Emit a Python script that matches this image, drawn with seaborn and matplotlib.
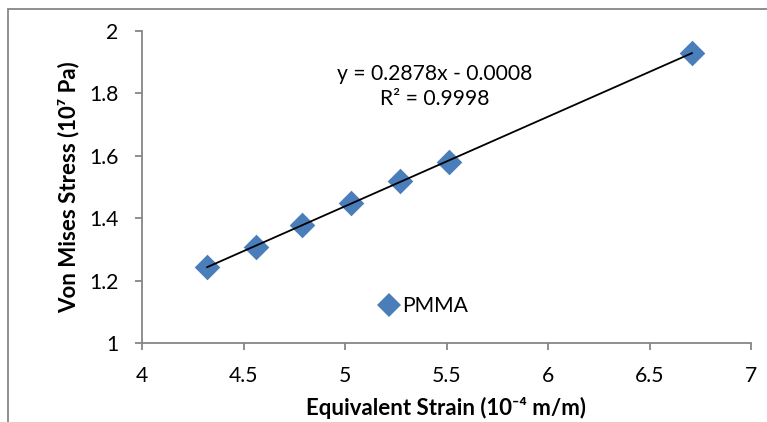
import matplotlib
matplotlib.use("Agg")
import matplotlib.pyplot as plt
import matplotlib.patches as mpatches
from matplotlib.lines import Line2D
import seaborn as sns
import numpy as np

# Data
strain = [4.32, 4.56, 4.79, 5.03, 5.27, 5.51, 6.71]
stress = [1.243, 1.309, 1.379, 1.450, 1.519, 1.579, 1.930]
series_label = "PMMA"
x_ticks = [4, 4.5, 5, 5.5, 6, 6.5, 7]
x_ticklabels = ["4", "4.5", "5", "5.5", "6", "6.5", "7"]
y_ticks = [1, 1.2, 1.4, 1.6, 1.8, 2]
y_ticklabels = ["1", "1.2", "1.4", "1.6", "1.8", "2"]
eq_text = "y = 0.2878x - 0.0008\nR\u00b2 = 0.9998"

sns.set_theme(style="white")
plt.rcParams['font.family'] = ['Lato', 'DejaVu Sans']
plt.rcParams['text.color'] = 'black'
plt.rcParams['axes.labelcolor'] = 'black'
plt.rcParams['xtick.labelcolor'] = 'black'
plt.rcParams['ytick.labelcolor'] = 'black'

W, H = 767, 422
fig = plt.figure(figsize=(W / 100, H / 100), dpi=100)
ax = fig.add_axes([142 / W, 1 - 343 / H, (751 - 142) / W, (343 - 31) / H])

blue = "#4A7EBB"
grey = "#868686"
fs = 15.2
fs_title = 16

sns.regplot(x=strain, y=stress, ax=ax, ci=None, marker="D",
            scatter_kws=dict(s=170, color=blue, linewidths=0, alpha=1),
            line_kws=dict(color="black", lw=1.3))

ax.set_xlim(4, 7)
ax.set_ylim(1, 2)
ax.set_xticks(x_ticks)
ax.set_xticklabels(x_ticklabels)
ax.set_yticks(y_ticks)
ax.set_yticklabels(y_ticklabels)

for s in ["top", "right"]:
    ax.spines[s].set_visible(False)
for s in ["left", "bottom"]:
    ax.spines[s].set_color(grey)
    ax.spines[s].set_linewidth(1.3)

ax.tick_params(axis="x", direction="out", length=5.3, width=1.3, color=grey,
               labelsize=fs, labelcolor="black", pad=11, bottom=True)
ax.tick_params(axis="y", direction="out", length=5.3, width=1.3, color=grey,
               labelsize=fs, labelcolor="black", pad=11.5, left=True)

ax.set_xlabel("Equivalent Strain (10\u207b\u2074 m/m)", fontsize=fs_title,
              fontweight="bold", labelpad=8, color="black")
ax.set_ylabel("Von Mises Stress (10\u2077 Pa)", fontsize=fs_title,
              fontweight="bold", labelpad=7, color="black")

ax.text((435 - 142) / 609, (343 - 86.5) / 312, eq_text, transform=ax.transAxes,
        ha="center", va="center", fontsize=fs, linespacing=1.3, color="black")

handle = Line2D([], [], marker="D", linestyle="none", color=blue,
                markersize=12, markeredgewidth=0)
leg = ax.legend([handle], [series_label], loc="center left",
                bbox_to_anchor=((378 - 142) / 609, (343 - 306) / 312),
                frameon=False, fontsize=fs, handletextpad=0.15,
                borderaxespad=0, borderpad=0, handlelength=1.0)
for t in leg.get_texts():
    t.set_color("black")

# outer chart-area frame
fig.patches.append(mpatches.Rectangle((8 / W, -0.2), 1.2, 1 - 9 / H + 0.2,
                                      transform=fig.transFigure, fill=False,
                                      edgecolor=grey, lw=1.3))

fig.savefig("out.png", dpi=100)
